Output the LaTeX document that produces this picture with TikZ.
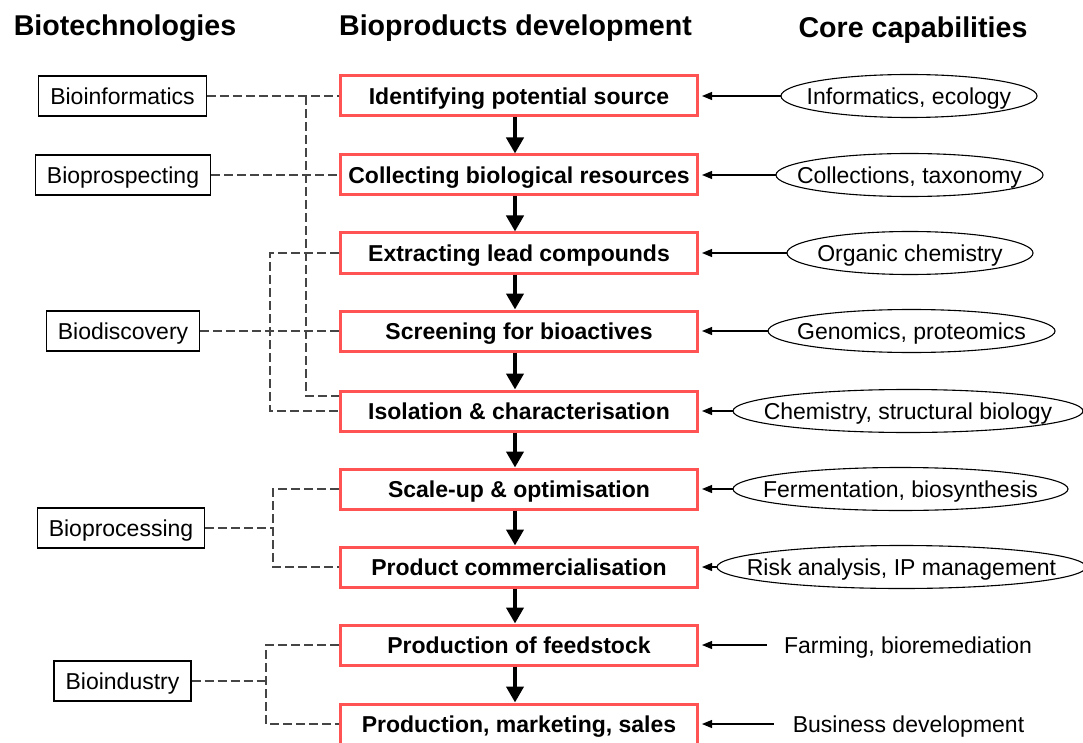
\documentclass[tikz,border=0pt]{standalone}
\usepackage{fontspec}
\setmainfont{Liberation Sans}
\usetikzlibrary{arrows.meta}
\definecolor{stagered}{HTML}{FF5252}
\definecolor{linkgray}{HTML}{454545}
% capability label with an oval drawn around it: name, x, y, oval width, text
\newcommand\capoval[5]{%
  \node[captext, minimum width=#4pt] (#1) at (#2,#3) {#5};
  \draw[ovalline] (#1.center) ellipse [x radius={#4/2}, y radius=21.5];}
\begin{document}
\begin{tikzpicture}[x=1pt,y=-1pt,
  header/.style={font=\fontsize{28.6}{33}\selectfont\bfseries, inner sep=0pt,
    text height=20.5pt, text depth=0pt},
  stagebox/.style={draw=stagered, line width=3pt, minimum width=357pt, minimum height=40pt,
    inner sep=0pt, text height=16.5pt, text depth=0pt, font=\fontsize{23}{27}\selectfont\bfseries},
  techbox/.style={draw=black, line width=1.3pt, minimum height=40pt, inner xsep=11.5pt,
    inner ysep=0pt, text height=16.5pt, text depth=0pt, font=\fontsize{23}{27}\selectfont},
  captext/.style={minimum height=43pt, inner sep=0pt, text height=16.5pt, text depth=0pt,
    font=\fontsize{23}{27}\selectfont},
  ovalline/.style={draw=black, line width=1.1pt},
  capplain/.style={inner ysep=0pt, text height=16.5pt, text depth=0pt,
    font=\fontsize{23}{27}\selectfont},
  flow/.style={line width=4pt, -{Triangle[width=17pt,length=16pt]}},
  feed/.style={line width=1.1pt, -{Triangle[width=8pt,length=10pt]}},
  link/.style={draw=linkgray, line width=1.3pt, dash pattern=on 9pt off 4pt}]
\useasboundingbox (0,0) rectangle (1083,743);

% column headings
\node[header] (h1) at (125,25) {Biotechnologies};
\node[header] (h2) at (515.5,25) {Bioproducts development};
\node[header] (h3) at (913,27) {Core capabilities};

% development stages
\node[stagebox] (b1) at (519,96)  {Identifying potential source};
\node[stagebox] (b2) at (519,175) {Collecting biological resources};
\node[stagebox] (b3) at (519,253) {Extracting lead compounds};
\node[stagebox] (b4) at (519,331) {Screening for bioactives};
\node[stagebox] (b5) at (519,411) {Isolation \& characterisation};
\node[stagebox] (b6) at (519,489) {Scale-up \& optimisation};
\node[stagebox] (b7) at (519,567) {Product commercialisation};
\node[stagebox] (b8) at (519,645) {Production of feedstock};
\node[stagebox] (b9) at (519,724) {Production, marketing, sales};

\foreach \a/\b in {b1/b2,b2/b3,b3/b4,b4/b5,b5/b6,b6/b7,b7/b8,b8/b9}
  \draw[flow] ([xshift=-4pt]\a.south) -- ([xshift=-4pt]\b.north);

% biotechnologies
\node[techbox] (bi) at (122.5,96)  {Bioinformatics};
\node[techbox] (bs) at (123,175)   {Bioprospecting};
\node[techbox] (bd) at (123,331)   {Biodiscovery};
\node[techbox] (bp) at (121,528)   {Bioprocessing};
\node[techbox] (bn) at (122.5,681) {Bioindustry};

\coordinate (j1) at (306,96);
\coordinate (j2) at (270,331);
\coordinate (j3) at (273,528);
\coordinate (j4) at (266,681);

\draw[link] (bi.east) -- (b1.west);
\draw[link] (j1) |- ([yshift=15pt]b5.west);
\draw[link] (bs.east) -- (b2.west);
\draw[link] (bd.east) -- (b4.west);
\draw[link] (b3.west) -| (j2) |- (b5.west);
\draw[link] (bp.east) -- (j3);
\draw[link] (b6.west) -| (j3) |- (b7.west);
\draw[link] (bn.east) -- (j4);
\draw[link] (b8.west) -| (j4) |- (b9.west);

% core capabilities
\capoval{c1}{909}{96}{256}{Informatics, ecology}
\capoval{c2}{909.5}{175}{267}{Collections, taxonomy}
\capoval{c3}{910}{253}{246}{Organic chemistry}
\capoval{c4}{911.5}{331}{287}{Genomics, proteomics}
\capoval{c5}{908}{411}{350}{Chemistry, structural biology}
\capoval{c6}{900.5}{489}{335}{Fermentation, biosynthesis}
\capoval{c7}{901.5}{567}{369}{Risk analysis, IP management}
\node[capplain, inner xsep=17pt] (c8) at (908,645)   {Farming, bioremediation};
\node[capplain, inner xsep=19pt] (c9) at (908.5,724) {Business development};

\foreach \c/\b in {c1/b1,c2/b2,c3/b3,c4/b4,c5/b5,c6/b6,c7/b7,c8/b8,c9/b9}
  \draw[feed] (\c.west) -- ([xshift=3pt]\b.east);
\end{tikzpicture}
\end{document}
